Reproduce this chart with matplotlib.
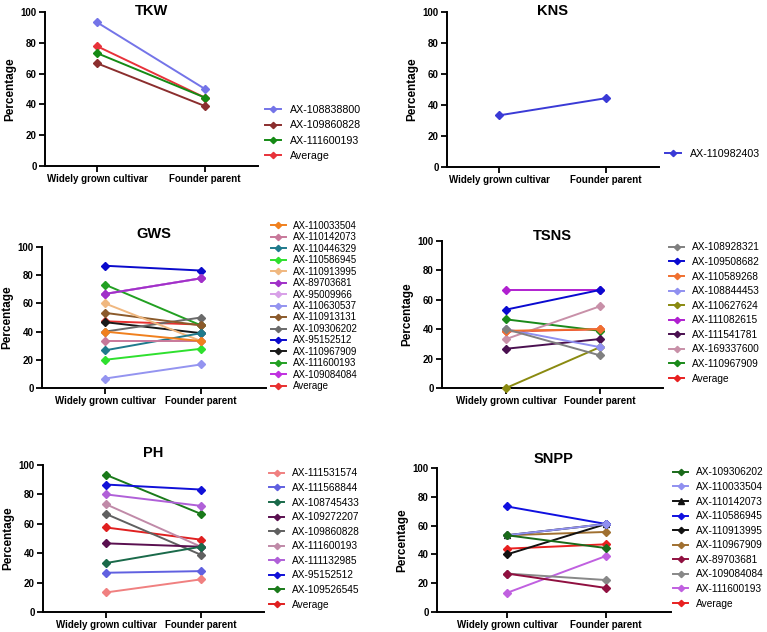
"""
Percentage of favourable alleles: widely grown cultivars vs founder parents
"""
import matplotlib
matplotlib.use('Agg')
import matplotlib.pyplot as plt

plt.rcParams['font.family'] = ['Liberation Sans', 'DejaVu Sans']

groups = ['Widely grown cultivar', 'Founder parent']

# ---- data (widely grown cultivar, founder parent) ----
tkw_names = ['AX-108838800', 'AX-109860828', 'AX-111600193', 'Average']
tkw_vals = [[93.3, 50.0], [66.7, 38.9], [73.3, 44.4], [77.8, 44.4]]
tkw_cols = ['#7474e8', '#8b2e2e', '#158a15', '#e8323a']

kns_names = ['AX-110982403']
kns_vals = [[33.3, 44.4]]
kns_cols = ['#3a3ad6']

gws_names = ['AX-110033504', 'AX-110142073', 'AX-110446329', 'AX-110586945',
             'AX-110913995', 'AX-89703681', 'AX-95009966', 'AX-110630537',
             'AX-110913131', 'AX-109306202', 'AX-95152512', 'AX-110967909',
             'AX-111600193', 'AX-109084084', 'Average']
gws_vals = [[40.0, 33.3], [33.3, 33.3], [26.7, 38.9], [20.0, 27.8],
            [60.0, 33.3], [66.7, 77.8], [66.7, 77.8], [6.7, 16.7],
            [53.3, 44.4], [40.0, 50.0], [86.7, 83.3], [46.7, 38.9],
            [73.3, 44.4], [66.7, 77.8], [47.3, 45.0]]
gws_cols = ['#f0801e', '#c8789a', '#1f7a8c', '#2ee02e', '#f0b880', '#a030c8',
            '#d8a0e8', '#9494f0', '#8b5a2b', '#6a6a6a', '#0a0acc', '#1a1a1a',
            '#22a022', '#c030e0', '#e83030']

tsns_names = ['AX-108928321', 'AX-109508682', 'AX-110589268', 'AX-108844453',
              'AX-110627624', 'AX-111082615', 'AX-111541781', 'AX-169337600',
              'AX-110967909', 'Average']
tsns_vals = [[40.0, 22.2], [53.3, 66.7], [38.9, 40.0], [40.0, 27.8],
             [0.0, 27.8], [66.7, 66.7], [26.7, 33.3], [33.3, 55.6],
             [46.7, 38.9], [38.5, 40.0]]
tsns_cols = ['#808080', '#0a0ad0', '#f07030', '#9090f0', '#8a8a10',
             '#b020d0', '#4a1050', '#c890a8', '#1a8a1a', '#e82020']

ph_names = ['AX-111531574', 'AX-111568844', 'AX-108745433', 'AX-109272207',
            'AX-109860828', 'AX-111600193', 'AX-111132985', 'AX-95152512',
            'AX-109526545', 'Average']
ph_vals = [[13.3, 22.2], [26.7, 27.8], [33.3, 44.4], [46.7, 44.4],
           [66.7, 38.9], [73.3, 44.4], [80.0, 72.2], [86.7, 83.3],
           [93.3, 66.7], [57.5, 49.2]]
ph_cols = ['#f08080', '#6060e0', '#1a6a4a', '#5a1050', '#606060',
           '#c08aa8', '#b060d8', '#1010d8', '#1a7a1a', '#e02020']

snpp_names = ['AX-109306202', 'AX-110033504', 'AX-110142073', 'AX-110586945',
              'AX-110913995', 'AX-110967909', 'AX-89703681', 'AX-109084084',
              'AX-111600193', 'Average']
snpp_vals = [[53.3, 44.4], [53.3, 61.1], [53.3, 61.1], [73.3, 61.1],
             [40.0, 61.1], [53.3, 55.6], [26.7, 16.7], [26.7, 22.2],
             [13.3, 38.9], [44.0, 47.0]]
snpp_cols = ['#1a6a1a', '#9090f0', '#111111', '#1010e0', '#111111',
             '#a07030', '#901040', '#888888', '#c060e0', '#e82020']
snpp_marks = ['D', 'D', '^', 'D', 'D', 'D', 'D', 'D', 'D', 'D']

# ---- layout in pixels: axes box, category x, title pad, legend ----
W, H = 767, 632
panels = [
    # title, names, vals, cols, (left, right, top, bottom), (x0, x1), pad, (leg_x, leg_y), leg_fs, leg_sp
    ('TKW', tkw_names, tkw_vals, tkw_cols, (45, 258, 12, 166), (97, 205), -2, (265, 133), 7.7, 0.5),
    ('KNS', kns_names, kns_vals, kns_cols, (447, 659, 12, 167), (499, 606), -2, (665, 154), 7.7, 0.5),
    ('GWS', gws_names, gws_vals, gws_cols, (42, 266, 247, 388), (105, 201), 6.5, (271, 306), 7.0, 0.15),
    ('TSNS', tsns_names, tsns_vals, tsns_cols, (442, 663, 241, 388), (506, 600), 1, (669, 313), 7.3, 0.45),
    ('PH', ph_names, ph_vals, ph_cols, (43, 264, 465, 612), (106, 201), 6, (269, 539), 7.3, 0.45),
    ('SNPP', snpp_names, snpp_vals, snpp_cols, (437, 671, 468, 612), (507, 606), 3.5, (673, 538), 7.3, 0.45),
]

fig = plt.figure(figsize=(W / 100, H / 100), dpi=100)

for title, names, vals, cols, box, cx, pad, leg, leg_fs, leg_sp in panels:
    l, r, t, b = box
    ax = fig.add_axes([l / W, 1 - b / H, (r - l) / W, (b - t) / H])
    n = len(names)
    for i, (name, v, c) in enumerate(zip(names, vals, cols)):
        mk = snpp_marks[i] if title == 'SNPP' else 'D'
        ax.plot([0, 1], v, '-', marker=mk, color=c, linewidth=1.4,
                markersize=4 if mk == 'D' else 5, label=name, zorder=3 + n - i,
                clip_on=False)

    # map category pixel positions onto the axes width
    unit = cx[1] - cx[0]
    ax.set_xlim((l - cx[0]) / unit, (r - cx[0]) / unit)
    ax.set_ylim(0, 100)
    ax.set_yticks([0, 20, 40, 60, 80, 100])
    ax.set_xticks([0, 1])
    ax.set_xticklabels(groups)
    for s in ['top', 'right']:
        ax.spines[s].set_visible(False)
    for s in ['left', 'bottom']:
        ax.spines[s].set_linewidth(1.4)
    ax.tick_params(direction='out', length=4, width=1.3, labelsize=7, pad=2)
    for lab in ax.get_xticklabels() + ax.get_yticklabels():
        lab.set_fontweight('bold')
    ax.set_ylabel('Percentage', fontsize=8.5, fontweight='bold', labelpad=3)
    # fixed y stops matplotlib from lifting the title
    ax.set_title(title, fontsize=10.5, fontweight='bold', pad=pad, y=1.0)

    ax.legend(loc='center left', bbox_to_anchor=(leg[0] / W, 1 - leg[1] / H),
              bbox_transform=fig.transFigure, frameon=False, fontsize=leg_fs,
              labelspacing=leg_sp, borderpad=0, borderaxespad=0,
              handlelength=1.5, handletextpad=0.8, markerscale=0.8)

plt.savefig('out.png', dpi=100)
